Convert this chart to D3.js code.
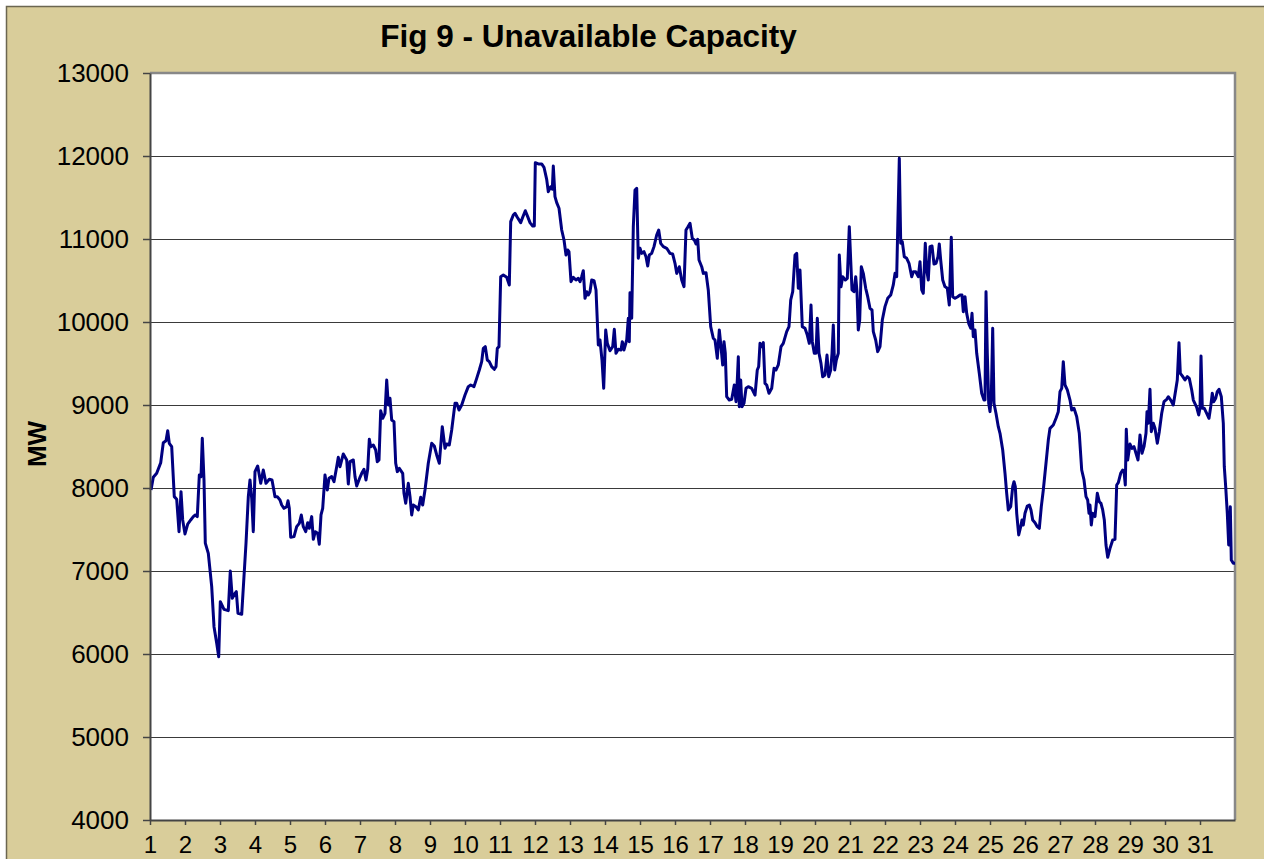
<!DOCTYPE html>
<html>
<head>
<meta charset="utf-8">
<script src="https://cdn.jsdelivr.net/npm/d3@7"></script>
<style>
  html, body { margin: 0; padding: 0; background: #fff; overflow: hidden; }
  text { font-family: "Liberation Sans", Arial, sans-serif; }
</style>
</head>
<body>
<div id="chart"></div>
<script>
// Chart data (day of month as a fractional position, MW)
const title = "Fig 9 - Unavailable Capacity";
const yLabel = "MW";
const dayTicks = d3.range(1, 32);
const mwTicks = [4000, 5000, 6000, 7000, 8000, 9000, 10000, 11000, 12000, 13000];

const days = [
  1.029, 1.094, 1.191, 1.306, 1.380, 1.457, 1.506, 1.551, 1.620, 1.694, 1.763, 1.829, 1.886, 1.934,
  2.000, 2.077, 2.163, 2.237, 2.294, 2.351, 2.409, 2.457, 2.494, 2.543, 2.580, 2.666, 2.763, 2.829, 2.906, 2.963,
  3.009, 3.114, 3.237, 3.294, 3.351, 3.429, 3.466, 3.514, 3.620, 3.743, 3.809, 3.857, 3.906, 3.951,
  4.000, 4.077, 4.163, 4.237, 4.314, 4.409, 4.486, 4.571, 4.637, 4.714, 4.763, 4.829, 4.906, 4.943, 4.980,
  5.020, 5.114, 5.191, 5.266, 5.323, 5.380, 5.449, 5.506, 5.551, 5.620, 5.666, 5.723, 5.791, 5.837, 5.886, 5.934,
  6.000, 6.066, 6.114, 6.191, 6.257, 6.334, 6.380, 6.429, 6.523, 6.620, 6.666, 6.714, 6.809, 6.857, 6.906,
  7.000, 7.049, 7.114, 7.171, 7.220, 7.266, 7.306, 7.380, 7.449, 7.494, 7.543, 7.591, 7.649, 7.714, 7.763, 7.809, 7.857, 7.906, 7.971,
  8.020, 8.066, 8.123, 8.220, 8.257, 8.306, 8.380, 8.429, 8.477, 8.523, 8.600, 8.666, 8.734, 8.791, 8.857, 8.951,
  9.049, 9.123, 9.191, 9.266, 9.351, 9.429, 9.477, 9.551, 9.620, 9.714, 9.763, 9.829, 9.906,
  10.000, 10.094, 10.163, 10.257, 10.334, 10.409, 10.477, 10.523, 10.580, 10.637, 10.694, 10.763, 10.837, 10.886, 10.923, 10.971,
  11.020, 11.094, 11.191, 11.266, 11.306, 11.380, 11.429, 11.494, 11.591, 11.649, 11.723, 11.791, 11.857, 11.934, 11.980,
  12.009, 12.094, 12.191, 12.257, 12.334, 12.380, 12.449, 12.494, 12.523, 12.571, 12.620, 12.686, 12.763, 12.829, 12.886, 12.934, 12.971,
  13.029, 13.094, 13.171, 13.237, 13.286, 13.334, 13.380, 13.429, 13.477, 13.523, 13.571, 13.620, 13.686, 13.743, 13.809, 13.857, 13.914, 13.963,
  14.020, 14.066, 14.143, 14.220, 14.266, 14.314, 14.380, 14.457, 14.494, 14.543, 14.620, 14.666, 14.694, 14.714, 14.763, 14.809, 14.857, 14.906, 14.951,
  15.000, 15.049, 15.114, 15.171, 15.220, 15.266, 15.334, 15.400, 15.477, 15.534, 15.591, 15.666, 15.763, 15.857, 15.934,
  16.000, 16.049, 16.123, 16.191, 16.257, 16.314, 16.363, 16.429, 16.494, 16.551, 16.600, 16.649, 16.686, 16.763, 16.809, 16.886, 16.951,
  17.020, 17.094, 17.143, 17.209, 17.266, 17.314, 17.363, 17.400, 17.437, 17.477, 17.551, 17.620, 17.694, 17.743, 17.780, 17.809, 17.837, 17.877, 17.914, 17.971,
  18.029, 18.094, 18.191, 18.286, 18.351, 18.391, 18.429, 18.477, 18.523, 18.571, 18.620, 18.686, 18.763, 18.829, 18.886, 18.951,
  19.029, 19.094, 19.191, 19.257, 19.306, 19.363, 19.429, 19.477, 19.523, 19.571, 19.637, 19.714, 19.780, 19.837, 19.886, 19.923, 19.980,
  20.029, 20.066, 20.114, 20.171, 20.220, 20.286, 20.343, 20.391, 20.449, 20.486, 20.523, 20.563, 20.609, 20.666, 20.694, 20.743, 20.791, 20.866, 20.923, 20.980,
  21.020, 21.057, 21.114, 21.163, 21.200, 21.237, 21.277, 21.323, 21.380, 21.449, 21.506, 21.571, 21.629, 21.666, 21.734, 21.791, 21.857, 21.923,
  22.000, 22.077, 22.163, 22.237, 22.286, 22.334, 22.371, 22.409, 22.449, 22.494, 22.551, 22.620, 22.686, 22.763, 22.809, 22.877, 22.951,
  23.000, 23.049, 23.094, 23.151, 23.191, 23.237, 23.286, 23.343, 23.400, 23.457, 23.514, 23.551, 23.591, 23.649, 23.714, 23.780, 23.837, 23.894, 23.934,
  24.000, 24.077, 24.143, 24.200, 24.237, 24.286, 24.334, 24.391, 24.449, 24.486, 24.523, 24.571, 24.620, 24.694, 24.763, 24.829, 24.857, 24.886, 24.923, 24.963,
  25.000, 25.037, 25.077, 25.114, 25.171, 25.237, 25.286, 25.363, 25.429, 25.477, 25.523, 25.591, 25.649, 25.686, 25.723, 25.763, 25.820, 25.877, 25.914, 25.951,
  26.000, 26.066, 26.123, 26.171, 26.220, 26.286, 26.351, 26.409, 26.466, 26.523, 26.600, 26.666, 26.714, 26.809, 26.886, 26.951,
  27.000, 27.049, 27.094, 27.143, 27.209, 27.286, 27.334, 27.400, 27.477, 27.551, 27.620, 27.686, 27.743, 27.791, 27.829, 27.857, 27.894, 27.934,
  28.000, 28.066, 28.123, 28.171, 28.220, 28.266, 28.314, 28.363, 28.429, 28.506, 28.571, 28.620, 28.666, 28.734, 28.791, 28.829, 28.866, 28.894, 28.934,
  29.000, 29.057, 29.114, 29.171, 29.229, 29.286, 29.343, 29.400, 29.457, 29.486, 29.523, 29.571, 29.609, 29.666, 29.714, 29.780, 29.837, 29.906, 29.971,
  30.049, 30.094, 30.163, 30.237, 30.306, 30.351, 30.400, 30.437, 30.494, 30.571, 30.637, 30.694, 30.763, 30.809, 30.906, 30.963,
  31.000, 31.029, 31.066, 31.123, 31.191, 31.257, 31.306, 31.351, 31.391, 31.449, 31.494, 31.543, 31.609, 31.666, 31.694, 31.734, 31.780, 31.820, 31.837, 31.866, 31.894, 31.951,
  32.000
];

const mw = [
  7975, 8130, 8177, 8305, 8546, 8570, 8690, 8538, 8498, 7896, 7864, 7474, 7956, 7615,
  7446, 7566, 7615, 7655, 7675, 7655, 8157, 8137, 8598, 8097, 7335, 7213, 6811, 6329, 6129, 5968,
  6631, 6538, 6522, 7000, 6671, 6731, 6751, 6490, 6478, 7334, 7896, 8097, 7876, 7474,
  8197, 8265, 8056, 8217, 8056, 8105, 8097, 7896, 7896, 7855, 7795, 7755, 7775, 7847, 7755,
  7406, 7414, 7534, 7574, 7675, 7534, 7474, 7582, 7514, 7655, 7382, 7474, 7454, 7322, 7675, 7755,
  8157, 7976, 8117, 8137, 8076, 8257, 8370, 8257, 8410, 8338, 8048, 8317, 8338, 8137, 8025,
  8129, 8177, 8225, 8097, 8225, 8587, 8498, 8518, 8458, 8317, 8338, 8931, 8840, 8900, 9300, 9000, 9081, 8819, 8799,
  8298, 8197, 8237, 8177, 7936, 7815, 8056, 7896, 7675, 7795, 7775, 7735, 7888, 7795, 7976, 8298,
  8538, 8506, 8398, 8298, 8739, 8478, 8530, 8518, 8699, 9020, 9020, 8940, 9000,
  9120, 9221, 9241, 9221, 9321, 9422, 9522, 9683, 9703, 9542, 9522, 9462, 9430, 9462, 9683, 9703,
  10546, 10566, 10538, 10446, 11209, 11289, 11310, 11262, 11197, 11262, 11341, 11269, 11197, 11157, 11157,
  11919, 11904, 11904, 11864, 11719, 11570, 11630, 11599, 11880, 11510, 11438, 11370, 11108, 10988, 10807, 10867, 10847,
  10486, 10538, 10506, 10526, 10486, 10546, 10618, 10285, 10365, 10325, 10365, 10506, 10498, 10386, 9723, 9783, 9542, 9201,
  9904, 9744, 9654, 9703, 9912, 9623, 9671, 9663, 9763, 9663, 9783, 10045, 9763, 10353, 10045, 11149, 11590, 11610, 10767,
  10888, 10827, 10847, 10787, 10675, 10807, 10827, 10908, 11048, 11108, 10948, 10908, 10888, 10827, 10819,
  10707, 10586, 10666, 10506, 10426, 11108, 11141, 11189, 11008, 10988, 10940, 10996, 10747, 10666, 10586, 10594, 10386,
  9944, 9804, 9783, 9562, 9904, 9703, 9482, 9763, 9623, 9100, 9060, 9068, 9241, 9040, 9301, 9582, 8980, 9301, 8980, 9020,
  9201, 9221, 9201, 9120, 9422, 9462, 9743, 9703, 9751, 9261, 9241, 9141, 9201, 9442, 9422, 9482,
  9703, 9743, 9884, 9944, 10265, 10365, 10807, 10827, 10406, 10627, 9944, 9924, 9843, 9743, 10205, 9763, 9623,
  9623, 10045, 9623, 9502, 9341, 9362, 9602, 9341, 9422, 9623, 9964, 9422, 9542, 9623, 10807, 10426, 10546, 10506, 10526, 11149,
  10747, 10386, 10365, 10546, 10365, 9904, 10024, 10666, 10586, 10406, 10305, 10165, 10145, 9884, 9783, 9643, 9703, 10024,
  10185, 10285, 10325, 10446, 10586, 10546, 11269, 11972, 10948, 10968, 10787, 10767, 10707, 10546, 10606, 10606, 10546,
  10727, 10386, 10346, 10948, 10627, 10506, 10908, 10916, 10699, 10707, 10787, 10940, 10747, 10506, 10426, 10406, 10205, 11020, 10305,
  10285, 10305, 10325, 10325, 10124, 10305, 10104, 9984, 9924, 10104, 9823, 9904, 9623, 9382, 9141, 9060, 9060, 10365, 9623, 9020,
  8920, 9100, 9924, 9020, 8900, 8739, 8659, 8458, 8177, 7936, 7735, 7775, 8016, 8076, 8016, 7695, 7434, 7534, 7615, 7554,
  7695, 7783, 7795, 7735, 7615, 7582, 7534, 7514, 7775, 7976, 8298, 8578, 8719, 8759, 8840, 8920,
  9161, 9201, 9522, 9241, 9181, 9060, 8940, 8960, 8860, 8659, 8217, 8097, 7896, 7855, 7695, 7795, 7554, 7695,
  7655, 7936, 7835, 7815, 7735, 7615, 7313, 7165, 7273, 7374, 7382, 8036, 8064, 8177, 8217, 8197, 8036, 8707, 8338,
  8530, 8478, 8498, 8418, 8338, 8639, 8418, 8498, 8659, 8920, 8780, 9189, 8679, 8780, 8719, 8538, 8679, 8900, 9040,
  9068, 9100, 9060, 9000, 9181, 9301, 9751, 9382, 9350, 9301, 9341, 9321, 9181, 9060, 8972, 8880,
  8960, 9590, 8960, 8960, 8900, 8840, 8980, 9141, 9040, 9081, 9161, 9189, 9100, 8780, 8257, 8016, 7695, 7313, 7313, 7775, 7133, 7093,
  7093
];

const W = 1264, H = 859;
const margin = { top: 73, right: 29, bottom: 39, left: 150 };
const width = W - margin.left - margin.right;
const height = H - margin.top - margin.bottom;

const svg = d3.select("#chart")
  .append("svg")
  .attr("width", W)
  .attr("height", H);

// chart area with its thin outer border
svg.append("rect")
  .attr("x", 6.5).attr("y", 6.5)
  .attr("width", W).attr("height", H)
  .attr("fill", "#d9cd9a")
  .attr("stroke", "#6b6650")
  .attr("stroke-width", 1.5);

const g = svg.append("g")
  .attr("transform", `translate(${margin.left},${margin.top})`);

const x = d3.scaleLinear().domain([1, 32]).range([0, width]);
const y = d3.scaleLinear().domain([4000, 13000]).range([height, 0]);

// plot area
g.append("rect")
  .attr("width", width).attr("height", height)
  .attr("fill", "#fff");

// gridlines
g.append("g")
  .attr("class", "grid")
  .call(d3.axisLeft(y).tickValues(mwTicks.slice(1, -1)).tickSize(-width).tickFormat(""))
  .call(s => s.select(".domain").remove())
  .call(s => s.selectAll("line").attr("stroke", "#3a3a3a").attr("stroke-width", 1));

// plot border (top and right, grey)
g.append("path")
  .attr("d", `M0,0H${width}V${height}`)
  .attr("fill", "none")
  .attr("stroke", "#888")
  .attr("stroke-width", 2.5);

// the series
const line = d3.line()
  .x((d, i) => x(days[i]))
  .y(d => y(d));

g.append("path")
  .datum(mw)
  .attr("fill", "none")
  .attr("stroke", "#000080")
  .attr("stroke-width", 3)
  .attr("stroke-linejoin", "round")
  .attr("d", line);

// axes
g.append("g")
  .call(d3.axisLeft(y).tickValues(mwTicks).tickFormat(d3.format("d")).tickSize(7).tickPadding(14).tickSizeOuter(0))
  .call(s => s.select(".domain").attr("stroke", "#444").attr("stroke-width", 2))
  .call(s => s.selectAll(".tick line").attr("stroke", "#444").attr("stroke-width", 1.5))
  .call(s => s.selectAll("text").attr("font-size", 26).attr("fill", "#000")
    .style("font-family", '"Liberation Sans", Arial, sans-serif'));

g.append("g")
  .attr("transform", `translate(0,${height})`)
  .call(d3.axisBottom(x).tickValues(dayTicks).tickFormat(d3.format("d")).tickSize(5).tickPadding(11).tickSizeOuter(0))
  .call(s => s.select(".domain").attr("stroke", "#444").attr("stroke-width", 2))
  .call(s => s.selectAll(".tick line").attr("stroke", "#444").attr("stroke-width", 1.5))
  .call(s => s.selectAll("text").attr("font-size", 24).attr("fill", "#000")
    .style("font-family", '"Liberation Sans", Arial, sans-serif'));

// title
svg.append("text")
  .attr("x", 588.5)
  .attr("y", 47)
  .attr("text-anchor", "middle")
  .attr("font-size", 31.5)
  .attr("font-weight", "bold")
  .text(title);

// y axis label
svg.append("text")
  .attr("transform", "translate(46,444) rotate(-90)")
  .attr("text-anchor", "middle")
  .attr("font-size", 26)
  .attr("font-weight", "bold")
  .text(yLabel);
</script>
</body>
</html>
